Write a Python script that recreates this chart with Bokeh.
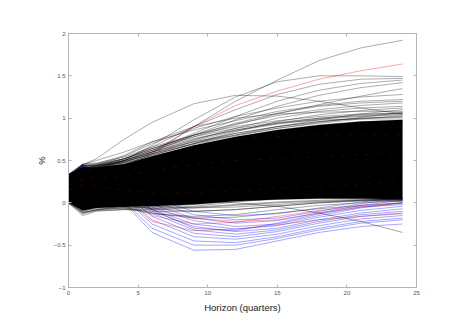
from bokeh.plotting import figure
from bokeh.models import Range1d, LinearAxis, FixedTicker, CustomJSTickFormatter
from bokeh.embed import file_html
from bokeh.resources import INLINE

# Horizons (quarters) at which each path is read
H = [0, 1, 2, 4, 6, 9, 12, 15, 18, 21, 24]

# Dense core of the draws (lower / upper edge of the solid black mass)
core_lo = [0.00, -0.09, -0.06, -0.05, -0.04, -0.02, 0.02, 0.04, 0.05, 0.05, 0.04]
core_hi = [0.34, 0.42, 0.42, 0.46, 0.55, 0.68, 0.78, 0.86, 0.92, 0.96, 0.98]

# Individual black draws above the core
black_up = [
    [0.20, 0.30, 0.32, 0.40, 0.58, 0.90, 1.20, 1.45, 1.68, 1.83, 1.92],
    [0.30, 0.45, 0.52, 0.75, 0.95, 1.17, 1.27, 1.26, 1.20, 1.12, 1.05],
    [0.25, 0.35, 0.40, 0.50, 0.68, 0.98, 1.25, 1.43, 1.50, 1.50, 1.49],
    [0.25, 0.38, 0.42, 0.52, 0.66, 0.90, 1.10, 1.28, 1.40, 1.46, 1.47],
    [0.28, 0.40, 0.42, 0.50, 0.62, 0.82, 1.02, 1.20, 1.33, 1.41, 1.45],
    [0.22, 0.36, 0.40, 0.48, 0.60, 0.80, 0.98, 1.14, 1.27, 1.36, 1.42],
    [0.26, 0.40, 0.44, 0.55, 0.70, 0.88, 1.02, 1.12, 1.20, 1.25, 1.28],
    [0.24, 0.36, 0.40, 0.50, 0.62, 0.78, 0.92, 1.05, 1.16, 1.26, 1.35],
    [0.28, 0.42, 0.45, 0.52, 0.64, 0.80, 0.93, 1.03, 1.10, 1.15, 1.18],
    [0.25, 0.38, 0.42, 0.50, 0.60, 0.74, 0.88, 1.00, 1.08, 1.12, 1.14],
    [0.30, 0.44, 0.46, 0.56, 0.72, 0.90, 1.00, 1.05, 1.07, 1.08, 1.08],
    [0.22, 0.35, 0.40, 0.46, 0.56, 0.70, 0.84, 0.96, 1.04, 1.09, 1.12],
    [0.26, 0.40, 0.44, 0.52, 0.62, 0.76, 0.86, 0.94, 1.00, 1.04, 1.06],
    [0.24, 0.37, 0.41, 0.48, 0.58, 0.72, 0.82, 0.90, 0.96, 1.00, 1.02],
    [0.27, 0.41, 0.43, 0.50, 0.60, 0.72, 0.80, 0.88, 0.94, 0.99, 1.03],
    [0.30, 0.45, 0.50, 0.60, 0.72, 0.86, 0.97, 1.08, 1.15, 1.20, 1.22],
    [0.26, 0.40, 0.43, 0.52, 0.64, 0.80, 0.94, 1.06, 1.14, 1.18, 1.20],
    [0.24, 0.38, 0.42, 0.49, 0.58, 0.70, 0.80, 0.90, 0.98, 1.05, 1.10],
    [0.30, 0.42, 0.43, 0.47, 0.56, 0.70, 0.82, 0.90, 0.96, 1.00, 1.01],
    [0.33, 0.44, 0.44, 0.48, 0.58, 0.73, 0.85, 0.93, 0.99, 1.02, 1.04],
    [0.32, 0.43, 0.45, 0.50, 0.60, 0.75, 0.86, 0.94, 0.98, 0.99, 0.99],
    [0.34, 0.45, 0.46, 0.52, 0.64, 0.78, 0.88, 0.95, 1.00, 1.03, 1.05],
    [0.31, 0.44, 0.44, 0.49, 0.57, 0.69, 0.79, 0.88, 0.95, 1.01, 1.07],
    [0.33, 0.46, 0.47, 0.54, 0.66, 0.80, 0.90, 0.97, 1.02, 1.05, 1.06],
    [0.32, 0.42, 0.42, 0.45, 0.53, 0.66, 0.77, 0.86, 0.92, 0.96, 0.97],
    [0.31, 0.43, 0.44, 0.47, 0.55, 0.67, 0.76, 0.84, 0.91, 0.95, 0.96],
]

# Individual black draws below the core
black_down = [
    [0.10, 0.00, 0.02, 0.05, 0.04, 0.02, 0.00, -0.04, -0.12, -0.22, -0.35],
    [0.00, -0.15, -0.10, -0.08, -0.10, -0.10, -0.08, -0.04, 0.00, 0.03, 0.05],
    [0.02, -0.12, -0.08, -0.06, -0.13, -0.16, -0.14, -0.08, -0.03, 0.00, 0.02],
    [0.05, -0.10, -0.05, -0.02, -0.07, -0.10, -0.08, -0.04, 0.00, 0.02, 0.03],
    [0.10, 0.00, -0.02, -0.05, -0.12, -0.18, -0.17, -0.12, -0.07, -0.03, 0.00],
    [0.03, -0.13, -0.09, -0.03, -0.04, -0.06, -0.05, -0.02, 0.01, 0.03, 0.04],
    [0.00, -0.10, -0.07, -0.06, -0.05, -0.02, 0.02, 0.04, 0.05, 0.05, 0.04],
    [-0.01, -0.12, -0.08, -0.07, -0.07, -0.05, -0.02, 0.01, 0.03, 0.04, 0.04],
    [0.01, -0.09, -0.06, -0.05, -0.06, -0.04, 0.01, 0.05, 0.06, 0.05, 0.03],
    [0.00, -0.11, -0.09, -0.08, -0.08, -0.06, -0.03, 0.00, 0.02, 0.03, 0.02],
]

# Blue draws
blue = [
    [0.30, 0.42, 0.30, 0.00, -0.35, -0.56, -0.55, -0.45, -0.35, -0.28, -0.25],
    [0.32, 0.45, 0.32, 0.02, -0.30, -0.50, -0.50, -0.42, -0.32, -0.24, -0.20],
    [0.28, 0.40, 0.30, 0.05, -0.25, -0.45, -0.47, -0.40, -0.30, -0.22, -0.18],
    [0.33, 0.44, 0.34, 0.08, -0.20, -0.40, -0.43, -0.37, -0.27, -0.19, -0.15],
    [0.30, 0.41, 0.33, 0.10, -0.16, -0.36, -0.40, -0.34, -0.24, -0.16, -0.12],
    [0.31, 0.43, 0.35, 0.12, -0.12, -0.32, -0.37, -0.32, -0.22, -0.14, -0.10],
    [0.29, 0.40, 0.34, 0.14, -0.10, -0.28, -0.34, -0.30, -0.20, -0.12, -0.07],
    [0.32, 0.44, 0.36, 0.16, -0.08, -0.25, -0.31, -0.27, -0.17, -0.09, -0.04],
    [0.30, 0.42, 0.35, 0.18, -0.05, -0.21, -0.28, -0.25, -0.15, -0.06, 0.00],
    [0.31, 0.43, 0.36, 0.20, -0.02, -0.18, -0.24, -0.21, -0.12, -0.03, 0.03],
    [0.30, 0.41, 0.36, 0.22, 0.02, -0.14, -0.20, -0.18, -0.10, -0.01, 0.05],
    [0.33, 0.45, 0.38, 0.24, 0.05, -0.10, -0.15, -0.13, -0.06, 0.01, 0.06],
    [0.28, 0.38, 0.32, 0.15, -0.08, -0.30, -0.33, -0.24, -0.13, -0.05, -0.02],
]

# Red draws (outside the core)
red = [
    [0.20, 0.30, 0.32, 0.42, 0.60, 0.90, 1.15, 1.32, 1.46, 1.56, 1.64],
    [0.30, 0.40, 0.32, 0.10, -0.15, -0.25, -0.23, -0.16, -0.09, -0.04, 0.00],
    [0.29, 0.41, 0.33, 0.06, -0.22, -0.33, -0.31, -0.26, -0.20, -0.16, -0.13],
    [0.31, 0.42, 0.35, 0.15, -0.08, -0.18, -0.22, -0.20, -0.12, -0.05, 0.00],
]

# Red draws partly hidden inside the core
red_core = [
    [0.25, 0.38, 0.42, 0.50, 0.60, 0.70, 0.76, 0.78, 0.80, 0.80, 0.80],
    [0.15, 0.20, 0.20, 0.15, 0.12, 0.12, 0.14, 0.17, 0.20, 0.22, 0.25],
    [0.20, 0.28, 0.30, 0.32, 0.38, 0.45, 0.50, 0.52, 0.55, 0.57, 0.58],
]

x_ticks = [0, 5, 10, 15, 20, 25]
y_ticks = [-1, -0.5, 0, 0.5, 1, 1.5, 2]

FRAME = "#b4b4b4"
LABEL = "#555555"

p = figure(width=460, height=323, x_range=Range1d(0, 25), y_range=Range1d(-1, 2),
           output_backend="svg", toolbar_location=None,
           min_border_left=68, min_border_right=44, min_border_top=33, min_border_bottom=36)
p.xgrid.visible = False
p.ygrid.visible = False
p.outline_line_color = FRAME
p.background_fill_color = "white"
p.border_fill_color = "white"

# draws
for ys in red:
    p.line(H, ys, line_color="#ff0000", line_width=0.5, line_alpha=0.7)
for ys in blue:
    p.line(H, ys, line_color="#0000ff", line_width=0.5, line_alpha=0.7)
for ys in black_down:
    p.line(H, ys, line_color="black", line_width=0.5, line_alpha=0.7)
for ys in black_up:
    p.line(H, ys, line_color="black", line_width=0.5, line_alpha=0.65)
p.varea(x=H, y1=core_lo, y2=core_hi, fill_color="black", fill_alpha=1.0)
for ys in red_core:
    p.line(H, ys, line_color="#b00000", line_width=0.5, line_alpha=0.6, line_dash="3 9")

def style_axis(ax, ticks, show_labels):
    ax.ticker = FixedTicker(ticks=ticks)
    ax.minor_tick_line_color = None
    ax.major_tick_in = 3
    ax.major_tick_out = 0
    ax.axis_line_color = FRAME
    ax.major_tick_line_color = FRAME
    ax.major_label_text_font = "Liberation Sans"
    ax.major_label_text_font_size = "6px"
    ax.major_label_text_color = LABEL
    ax.major_label_standoff = 3
    if not show_labels:
        ax.formatter = CustomJSTickFormatter(code="return ''")

xa = p.xaxis[0]
style_axis(xa, x_ticks, True)
xa.axis_label = "Horizon (quarters)"
xa.axis_label_text_font = "Liberation Sans"
xa.axis_label_text_font_style = "normal"
xa.axis_label_text_font_size = "9.5px"
xa.axis_label_text_color = "#222222"
xa.axis_label_standoff = 4

ya = p.yaxis[0]
style_axis(ya, y_ticks, True)
ya.axis_label = "%"
ya.axis_label_text_font = "Liberation Sans"
ya.axis_label_text_font_style = "normal"
ya.axis_label_text_font_size = "9.5px"
ya.axis_label_text_color = "#222222"
ya.axis_label_standoff = 4

top = LinearAxis()
style_axis(top, x_ticks, False)
p.add_layout(top, "above")
right = LinearAxis()
style_axis(right, y_ticks, False)
p.add_layout(right, "right")

open("out.html", "w").write(file_html(p, INLINE))
